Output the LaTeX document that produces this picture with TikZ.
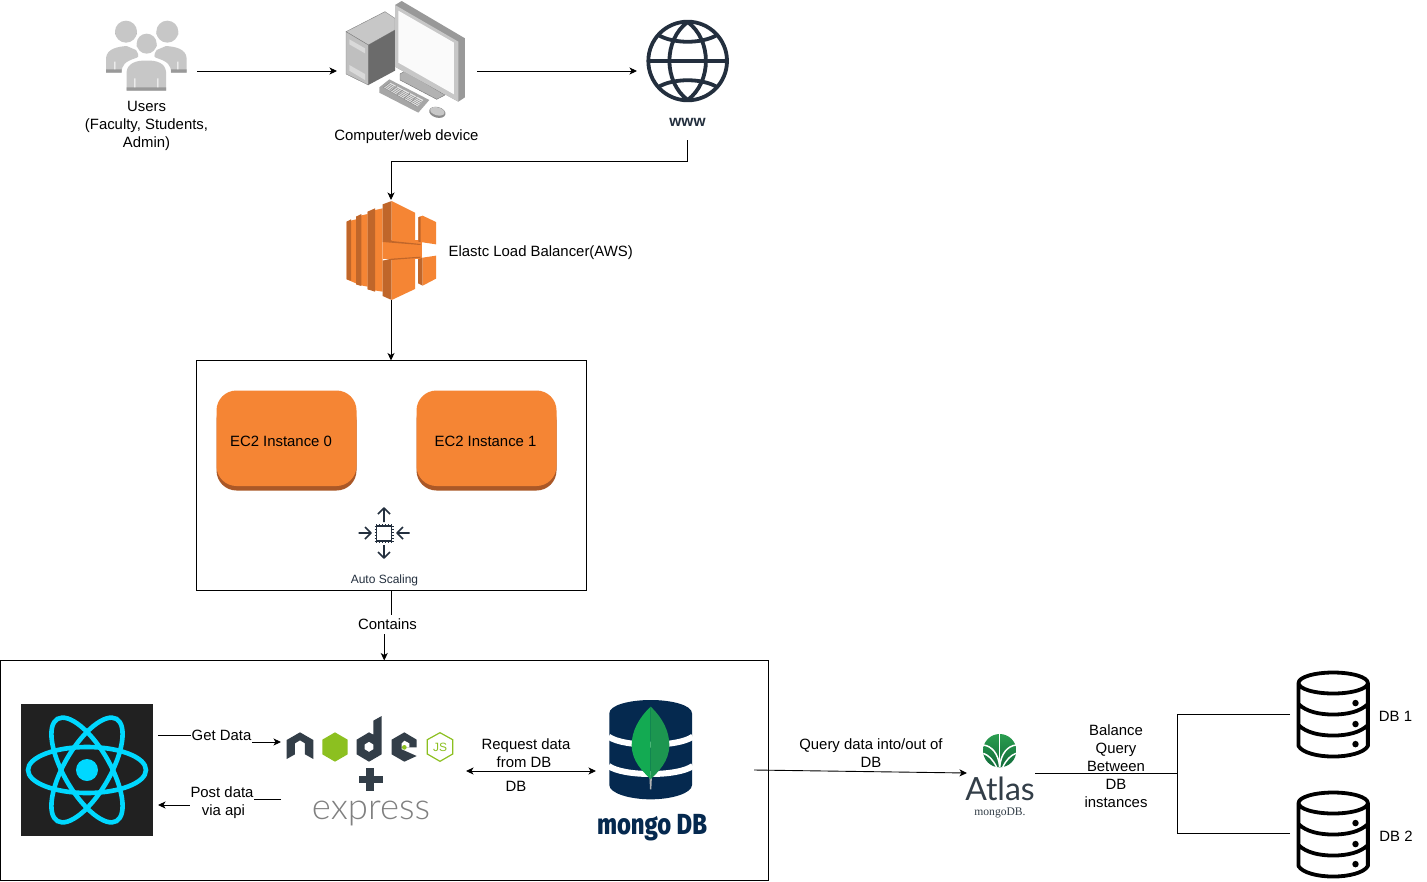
\documentclass[tikz,border=0pt]{standalone}
\usepackage{fontspec}
\setmainfont{Liberation Sans}
\newfontfamily\exprfont{Lato Light}
\newfontfamily\mongofont{Fira Sans ExtraBold}
\newfontfamily\atlasfont{Lato}
\newfontfamily\serifsmall{Liberation Serif}
\usetikzlibrary{arrows.meta,calc}
\definecolor{awsink}{HTML}{232F3E}
\definecolor{awsorange}{HTML}{F58534}
\definecolor{awsdark}{HTML}{9D5025}
\definecolor{awsmid}{HTML}{C0662A}
\definecolor{reactcyan}{HTML}{00D8FF}
\definecolor{mongonavy}{HTML}{05294F}
\definecolor{nodeink}{HTML}{333E48}
\definecolor{nodegreen}{HTML}{8CC020}
\definecolor{leafa}{HTML}{13AA52}
\definecolor{leafb}{HTML}{1C9650}
\definecolor{atlasgreen}{HTML}{2A9D4F}
\definecolor{atlasgreendark}{HTML}{116B3A}
\tikzset{
  txt/.style={font=\fontsize{14.9}{18}\selectfont,align=center,inner sep=1pt,text=black},
  whitetxt/.style={txt,fill=white,inner xsep=1pt,minimum height=19pt},
  conn/.style={draw=black,line width=.9pt,-{Stealth[length=7.5pt,width=7pt,inset=2pt]}},
  plain/.style={draw=black,line width=.9pt},
  bothconn/.style={draw=black,line width=.9pt,{Stealth[length=7.5pt,width=7pt,inset=2pt]}-{Stealth[length=7.5pt,width=7pt,inset=2pt]}},
  frame/.style={draw=black,line width=.9pt,inner sep=0pt,outer sep=0pt},
  iconbox/.style={inner sep=0pt,outer sep=0pt,rectangle},
  ec2/.style={rectangle,inner sep=0pt,outer sep=0pt,minimum width=140pt,minimum height=94pt,font=\fontsize{14.9}{18}\selectfont},
  zoomgrid/.style={x=.33333pt,y=-.33333pt},
  dbpic/.pic={
    \draw[line width=3.8pt,line join=round,line cap=round]
      (0,11) arc[x radius=36.5,y radius=11,start angle=180,end angle=-180]
      (0,11) -- (0,77) .. controls (4,84) and (20,88) .. (36.5,88) .. controls (53,88) and (69,84) .. (73,77) -- (73,11)
      (0,33) .. controls (8,41) and (22,44) .. (36.5,44) .. controls (51,44) and (65,41) .. (73,33)
      (0,55) .. controls (8,63) and (22,66) .. (36.5,66) .. controls (51,66) and (65,63) .. (73,55);
    \fill (60,32) circle[radius=3.4] (60,54) circle[radius=3.4] (60,75) circle[radius=3.4];
  }
}
\begin{document}
\begin{tikzpicture}[x=1pt,y=-1pt]
\useasboundingbox (0,0) rectangle (1427,881);
\fill[white] (0,0) rectangle (1427,881);

% invisible anchor boxes of the icons
\node[iconbox,minimum width=100pt,minimum height=40pt] (users) at (147,71) {};
\node[iconbox,minimum width=140pt,minimum height=140pt] (computer) at (407,71) {};
\node[iconbox,minimum width=100pt,minimum height=138pt] (www) at (687,71) {};
\node[iconbox,minimum width=90pt,minimum height=100pt] (elb) at (391,250) {};

% ---- users icon
\begin{scope}[shift={(90,0)},zoomgrid]
  \fill[black!35] (108,97) ++(-33,6) arc[start angle=180,end angle=360,radius=33] -- cycle;
  \fill[black!35] (232,97) ++(-33,6) arc[start angle=180,end angle=360,radius=33] -- cycle;
  \fill[black!22] (108,95) circle[radius=33] (232,95) circle[radius=33];
  \fill[black!22] (48,218) -- (48,175) .. controls (50,145) and (85,140) .. (110,138) -- (138,150) .. controls (150,170) and (145,172) .. (135,175) .. controls (105,185) and (95,195) .. (95,218) -- cycle;
  \fill[black!22] (290,218) -- (290,175) .. controls (288,145) and (253,140) .. (228,138) -- (200,150) .. controls (188,170) and (193,172) .. (203,175) .. controls (233,185) and (243,195) .. (243,218) -- cycle;
  \fill[black!22] (110,272) -- (110,215) .. controls (112,190) and (140,180) .. (170,182) .. controls (200,180) and (226,190) .. (228,215) -- (228,272) -- cycle;
  \fill[black!40] (48,208) rectangle (95,218) (243,208) rectangle (290,218) (110,262) rectangle (228,272);
  \fill[white] (73,185) rectangle (76,208) (262,185) rectangle (265,208) (133,235) rectangle (136,262) (202,235) rectangle (205,262);
  \fill[black!40] (170,135) ++(-30,4) arc[start angle=180,end angle=360,radius=30] -- cycle;
  \fill[black!22] (170,131) circle[radius=30];
\end{scope}

% ---- computer icon
\begin{scope}[shift={(90,0)},zoomgrid,line join=round]
  \fill[black!22,draw=black!50,line width=.4pt] (768,95) -- (885,35) -- (915,55) -- (915,90) -- (835,135) -- cycle;
  \fill[black!25,draw=black!50,line width=.4pt] (768,95) -- (835,135) -- (835,255) -- (768,222) -- cycle;
  \fill[black!58] (835,135) -- (915,90) -- (915,212) -- (835,255) -- cycle;
  \fill[white!85!black] (778,118) -- (825,145) -- (825,160) -- (778,133) -- cycle;
  \fill[white!85!black] (778,195) -- (825,222) -- (825,240) -- (778,212) -- cycle;
  \fill[black!30,draw=black!55,line width=.4pt] (930,222) -- (945,213) -- (1065,285) -- (1040,298) -- (930,240) -- cycle;
  \fill[black!40] (915,15) -- (935,3) -- (1125,115) -- (1125,292) -- (1105,305) -- (915,200) -- cycle;
  \fill[black!22] (915,15) -- (1105,125) -- (1105,305) -- (915,200) -- cycle;
  \fill[black!2] (925,32) -- (1092,128) -- (1092,283) -- (925,188) -- cycle;
  \fill[black!35] (868,262) -- (898,238) -- (1018,300) -- (985,338) -- (868,278) -- cycle;
  \fill[black!10] (880,262) -- (900,248) -- (1000,300) -- (982,320) -- cycle;
  \foreach \k in {0,.2,.4,.6,.8}{
    \draw[black!45,line width=.5pt] ($(880,262)!\k!(982,320)$) -- ($(900,248)!\k!(1000,300)$);
    \draw[black!45,line width=.5pt] ($(880,262)!\k!(900,248)$) -- ($(982,320)!\k!(1000,300)$);}
  \fill[black!45,rotate around={-15:(1042,337)}] (1042,337) ellipse[x radius=25,y radius=16];
  \fill[black!22,rotate around={-15:(1042,334)}] (1042,334) ellipse[x radius=22,y radius=12];
\end{scope}

% ---- globe icon
\begin{scope}[shift={(630,10)},zoomgrid,draw=awsink,line width=3.8pt]
  \draw (173,153) circle[radius=118];
  \draw (173,36) .. controls (100,90) and (100,215) .. (173,270);
  \draw (173,36) .. controls (246,90) and (246,215) .. (173,270);
  \draw (56,153) -- (290,153);
  \draw (85,75) .. controls (130,102) and (216,102) .. (261,75);
  \draw (85,231) .. controls (130,204) and (216,204) .. (261,231);
\end{scope}

% ---- load balancer icon
\begin{scope}[shift={(330,190)},zoomgrid,line join=round]
  \fill[awsorange] (50,95) -- (78,88) -- (78,280) -- (50,268) -- cycle;
  \fill[awsorange] (78,80) -- (113,72) -- (113,290) -- (78,283) -- cycle;
  \fill[awsorange] (113,65) -- (158,55) -- (158,305) -- (113,298) -- cycle;
  \fill[awsmid] (50,95) -- (63,88) -- (63,272) -- (50,268) -- cycle;
  \fill[awsmid] (78,80) -- (94,72) -- (94,288) -- (78,283) -- cycle;
  \fill[awsmid] (113,65) -- (135,55) -- (135,305) -- (113,298) -- cycle;
  \fill[awsorange] (158,150) rectangle (275,207);
  \fill[awsmid] (158,43) -- (185,33) -- (185,155) -- (158,152) -- cycle;
  \fill[awsorange] (185,33) -- (255,68) -- (255,162) -- (185,155) -- cycle;
  \fill[awsmid] (158,152) -- (185,153) -- (272,162) -- (272,165) -- (158,156) -- cycle;
  \fill[awsmid] (158,318) -- (185,330) -- (185,207) -- (158,212) -- cycle;
  \fill[awsorange] (185,330) -- (255,297) -- (255,203) -- (185,207) -- cycle;
  \fill[awsmid] (158,212) -- (185,206) -- (272,200) -- (272,203) -- cycle;
  \fill[awsorange] (265,82) -- (278,77) -- (318,96) -- (318,163) -- (265,155) -- cycle;
  \fill[awsmid] (265,82) -- (272,79) -- (272,156) -- (265,155) -- cycle;
  \fill[awsmid] (264,208) -- (278,203) -- (278,287) -- (264,280) -- cycle;
  \fill[awsorange] (278,203) -- (318,197) -- (318,266) -- (278,287) -- cycle;
\end{scope}

% ---- boxes
\node[frame,minimum width=390pt,minimum height=230pt] (ec2box) at (391.5,475.5) {};
\node[frame,minimum width=767.5pt,minimum height=220pt] (stack) at (384.25,770.5) {};

% ---- EC2 instances
\fill[awsdark!85!awsorange,rounded corners=20pt] (216.5,400) rectangle (356.5,490.5);
\fill[awsorange,rounded corners=20pt] (216.5,390.5) rectangle (356.5,486);
\node[ec2] (ec0) at (281,441.5) {EC2 Instance 0};
\fill[awsdark!85!awsorange,rounded corners=20pt] (416.5,400) rectangle (556.5,490.5);
\fill[awsorange,rounded corners=20pt] (416.5,390.5) rectangle (556.5,486);
\node[ec2] (ec1) at (485.5,441.5) {EC2 Instance 1};

% ---- auto scaling icon
\begin{scope}[draw=awsink,line width=1.6pt,line join=round]
  \draw (376.5,526) rectangle (391.5,541);
  \foreach \k in {0,3,6,9,12,15}{
    \draw[line width=.9pt] (376.5+\k,524) -- (376.5+\k,526) (376.5+\k,541) -- (376.5+\k,543)
       (374.5,526+\k) -- (376.5,526+\k) (391.5,526+\k) -- (393.5,526+\k);}
  \draw (384,522) -- (384,508) (378,514) -- (384,508) -- (390,514);
  \draw (384,545) -- (384,558) (378,552) -- (384,558) -- (390,552);
  \draw (358.5,533) -- (371,533) (365,527) -- (371,533) -- (365,539);
  \draw (409.5,533) -- (397,533) (403,527) -- (397,533) -- (403,539);
\end{scope}
\node[inner sep=0pt,font=\fontsize{12}{14}\selectfont,text=awsink] (autoscale) at (384.5,580) {Auto Scaling};

% ---- top labels
\node[txt] (userslabel) at (146.5,126) {Users\\(Faculty, Students,\\Admin)};
\node[txt] (complabel) at (406.5,137) {Computer/web device};
\node[inner sep=0pt,font=\bfseries\fontsize{15.5}{16}\selectfont,text=awsink] (wwwlabel) at (687.5,122.5) {www};
\node[txt,anchor=west] (elblabel) at (447.5,253) {Elastc Load Balancer(AWS)};

% ---- react icon
\node[iconbox,fill=black!87,minimum width=132pt,minimum height=132pt] (react) at (87,770) {};
\begin{scope}[draw=reactcyan,line width=4.6pt]
  \draw (87,770) ellipse[x radius=59,y radius=23];
  \draw[rotate around={60:(87,770)}] (87,770) ellipse[x radius=59,y radius=23];
  \draw[rotate around={120:(87,770)}] (87,770) ellipse[x radius=59,y radius=23];
\end{scope}
\fill[reactcyan] (87,770) circle[radius=11];

% ---- node + express logo
\begin{scope}[shift={(0,690)},zoomgrid]
  \fill[nodeink] (860,150) -- (900,127) -- (940,150) -- (940,207) -- (915,193) -- (915,160) -- (900,151) -- (885,160) -- (885,193) -- (860,207) -- cycle;
  \fill[nodegreen] (1005,127) -- (1043,149) -- (1043,193) -- (1005,215) -- (967,193) -- (967,149) -- cycle;
  \fill[nodeink,even odd rule] (1145,78) -- (1145,193) -- (1107,215) -- (1070,193) -- (1070,149) -- (1107,127) -- (1120,134) -- (1120,92) -- cycle
     (1107,155) -- (1120,163) -- (1120,178) -- (1107,186) -- (1094,178) -- (1094,163) -- cycle;
  \fill[nodeink] (1213,127) -- (1250,149) -- (1250,172) -- (1205,172) -- (1205,178) -- (1250,198) -- (1213,215) -- (1175,193) -- (1175,149) -- cycle;
  \fill[white] (1213,152) -- (1205,160) -- (1205,172) -- (1228,172) -- (1228,160) -- cycle;
  \fill[nodegreen] (1213,172) circle[radius=7];
  \draw[nodegreen,line width=1.2pt] (1320,128) -- (1358,149) -- (1358,192) -- (1320,214) -- (1282,192) -- (1282,149) -- cycle;
  \fill[nodeink] (1098,235) rectangle (1122,303);
  \fill[nodeink] (1078,257) rectangle (1150,278);
\end{scope}
\node[inner sep=0pt,font=\fontsize{12}{12}\selectfont,text=nodegreen] (jsmark) at (440,747) {JS};
\node[inner sep=0pt,font=\exprfont\fontsize{36.5}{36}\selectfont,text=black!50] (expresstext) at (371,813) {express};

% ---- mongo icon
\begin{scope}[shift={(580,690)},zoomgrid]
  \fill[mongonavy] (88,70) .. controls (88,45) and (150,30) .. (212,30) .. controls (274,30) and (336,45) .. (336,70)
     -- (336,285) .. controls (336,310) and (274,328) .. (212,328) .. controls (150,328) and (88,310) .. (88,285) -- cycle;
  \draw[white,line width=6pt] (86,140) .. controls (130,172) and (294,172) .. (338,140);
  \draw[white,line width=6pt] (86,228) .. controls (130,260) and (294,260) .. (338,228);
  \fill[black!30] (208,255) -- (216,255) -- (214,298) -- (210,298) -- cycle;
  \fill[leafa] (212,50) .. controls (175,85) and (155,125) .. (155,165) .. controls (155,215) and (190,245) .. (212,268) -- cycle;
  \fill[leafb] (212,50) .. controls (249,85) and (268,125) .. (268,165) .. controls (268,215) and (234,245) .. (212,268) -- cycle;
\end{scope}
\node[inner sep=0pt,font=\mongofont\fontsize{29}{29}\selectfont,text=mongonavy,xscale=.82] (mongotext) at (652,828) {mongo DB};

% ---- atlas icon
\begin{scope}[shift={(950,720)},zoomgrid]
  \shade[top color=atlasgreen,bottom color=atlasgreendark] (149,92) circle[radius=50];
  \draw[white,line width=1.3pt] (149,40) -- (149,142);
  \draw[white,line width=1.5pt] (100,75) .. controls (125,78) and (145,100) .. (149,140);
  \draw[white,line width=1.5pt] (198,75) .. controls (173,78) and (153,100) .. (149,140);
  \draw[white,line width=1.5pt] (100,100) .. controls (115,105) and (130,120) .. (140,142);
  \draw[white,line width=1.5pt] (198,100) .. controls (183,105) and (168,120) .. (158,142);
\end{scope}
\node[anchor=base,inner sep=0pt,font=\atlasfont\fontsize{32}{32}\selectfont,text=nodeink] (atlastext) at (1000,800.5) {Atlas};
\node[anchor=base,inner sep=0pt,font=\serifsmall\fontsize{11.6}{11}\selectfont,text=nodeink] (atlassub) at (1000,815) {mongoDB.};

% ---- db icons
\pic[xscale=.95,yscale=.955] at (1298.5,672.5) {dbpic};
\pic[xscale=.95,yscale=.955] at (1298.5,792.5) {dbpic};
\node[iconbox,minimum width=80pt,minimum height=88pt] (db1) at (1330,714) {};
\node[iconbox,minimum width=80pt,minimum height=88pt] (db2) at (1330,833) {};
\node[txt] (db1label) at (1395.5,716) {DB 1};
\node[txt] (db2label) at (1396,836) {DB 2};

% ---- anchors of connector ends
\coordinate (reactGet) at (158,735);
\coordinate (nodeGet) at (281,742);
\coordinate (nodePost) at (281,799);
\coordinate (reactPost) at (158,805);
\coordinate (nodeDb) at (466,771);
\coordinate (mongoDb) at (596,771);
\coordinate (stackOut) at (754,770);
\coordinate (atlasIn) at (967,773);
\coordinate (atlasOut) at (1035,773);
\coordinate (split) at (1177,773);

% ---- connectors
\draw[conn] (users.east) -- (computer.west);
\draw[conn] (computer.east) -- (www.west);
\draw[conn] (www.south) -- ++(0,21) -| (elb.north);
\draw[conn] (elb.south) -- (elb.south |- ec2box.north);
\draw[conn] (ec2box.south) -- ++(0,35) -| (stack.north);
\draw[conn] (reactGet) -- ++(62,0) |- (nodeGet);
\draw[conn] (nodePost) -- ++(-60,0) |- (reactPost);
\draw[bothconn] (nodeDb) -- (mongoDb);
\draw[conn] (stackOut) -- (atlasIn);
\draw[plain] (atlasOut) -- (split);
\draw[plain] (db1.west) -| (split);
\draw[plain] (db2.west) -| (split);

% ---- connector labels
\node[whitetxt] (containslabel) at (387.5,624.5) {Contains};
\node[whitetxt] (getlabel) at (221.5,735.5) {Get Data};
\node[whitetxt] (postlabel) at (222,803) {Post data\\\hspace*{3pt}via api};
\node[txt] (requestlabel) at (526,753) {Request data\\from DB\hspace*{4pt}};
\node[txt] (dblabel) at (516,786.5) {DB};
\node[txt] (querylabel) at (871,753) {Query data into/out of\\DB};
\node[txt] (balancelabel) at (1116,766) {Balance\\Query\\Between\\DB\\instances};
\end{tikzpicture}
\end{document}
